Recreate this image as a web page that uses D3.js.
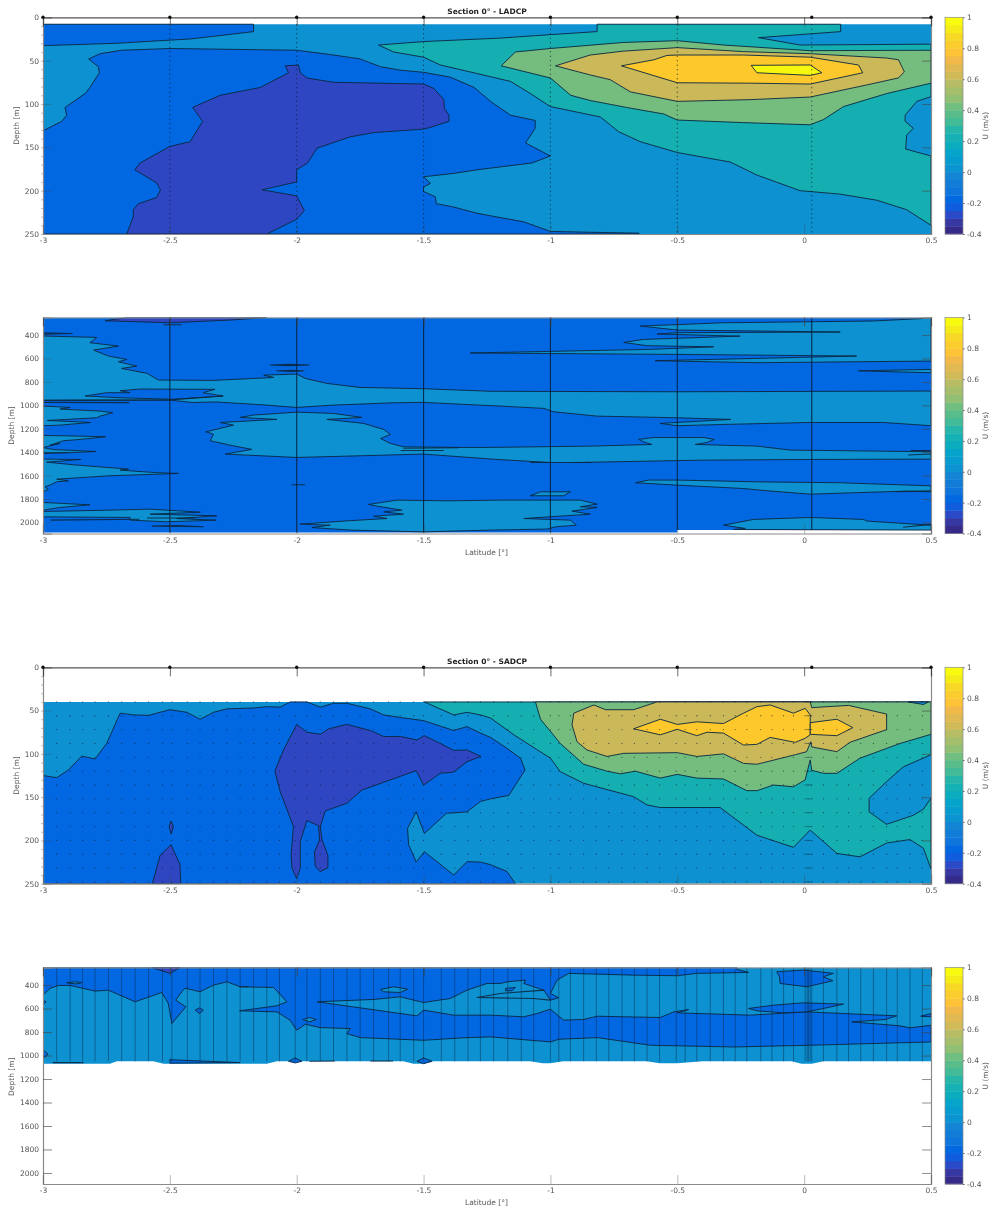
<!DOCTYPE html>
<html><head><meta charset="utf-8">
<script src="https://cdn.jsdelivr.net/npm/d3@7"></script>
<style>
html,body{margin:0;padding:0;background:#fff}
svg{display:block;filter:blur(0.5px)}
text{font-family:"DejaVu Sans",sans-serif;font-size:7.5px;fill:#555}
</style></head><body>
<script>
// ---------- colour scale ----------
const colorbarLevels=[-0.4,-0.35,-0.3,-0.25,-0.2,-0.15,-0.1,-0.05,0,0.05,0.1,0.15,0.2,0.25,0.3,0.35,0.4,0.45,0.5,0.55,0.6,0.65,0.7,0.75,0.8,0.85,0.9,0.95];
const colorbarColors=["#352a87","#3637a0","#2b4ac7","#0f5cdd","#0268e1","#0d75dc","#127dd8","#1485d4","#0c93d2","#079ccf","#06a4ca","#0aacbd","#15b1b4","#25b5a9","#42bb98","#59bd8b","#71bf80","#91bf73","#a5be6b","#b7bd64","#d1bb59","#e1b952","#f1b94a","#ffc337","#fccd2e","#f7d826","#f5eb18","#f9fb0e"];
const fillLevels=[-0.4,-0.2,0,0.2,0.4,0.6,0.8,1];
const fillColors=["#2f46c2","#0268e1","#0d91d1","#15afb1","#74bd7e","#cab859","#fcc82c","#f6f60f"];
const colorbarTicks=[-0.4,-0.2,0,0.2,0.4,0.6,0.8,1];
// ---------- axes ----------
const latTicks=[-3,-2.5,-2,-1.5,-1,-0.5,0,0.5];
const shallowDepthTicks=[0,50,100,150,200,250];
const deepDepthTicks=[400,600,800,1000,1200,1400,1600,1800,2000];
const stationLats=[-3,-2.5,-2,-1.5,-1,-0.5,0.03,0.5];
const sadcpLats=[-2.946,-2.893,-2.844,-2.795,-2.742,-2.69,-2.637,-2.584,-2.529,-2.492,-2.431,-2.381,-2.328,-2.275,-2.223,-2.17,-2.118,-2.068,-2.006,-1.96,-1.907,-1.855,-1.802,-1.75,-1.697,-1.638,-1.592,-1.539,-1.5,-1.43,-1.377,-1.325,-1.276,-1.224,-1.168,-1.115,-1.066,-1,-0.967,-0.921,-0.869,-0.819,-0.77,-0.718,-0.669,-0.619,-0.57,-0.504,-0.469,-0.423,-0.37,-0.318,-0.272,-0.226,-0.171,-0.127,-0.081,-0.042,0.004,0.012,0.017,0.024,0.03,0.076,0.129,0.175,0.223,0.273,0.325,0.367,0.417,0.466];
const sadcpDepths=[40,56,72,88,104,120,136,152,168,184,200,216,232,248];

// ---------- panel 1: LADCP 0-250 m  [latitude, depth] ----------
const l1Base=[[-3,8],[0.5,8],[0.5,250],[-3,250]];
const l1BlueTop=[[-3,8],[-2.17,8],[-2.17,16.5],[-2.315,21.5],[-2.42,25],[-2.54,27],[-2.71,30],[-3,32.7]];
const l1Blue=[[-3,131],[-2.926,120],[-2.907,113],[-2.913,104],[-2.834,88],[-2.815,81],[-2.778,64],[-2.782,57],[-2.82,48],[-2.775,42],[-2.69,38],[-2.5,36],[-2.25,37],[-2,38],[-1.855,43.5],[-1.75,48],[-1.67,57],[-1.59,61],[-1.5,63.5],[-1.395,69],[-1.3,81],[-1.236,97],[-1.197,105],[-1.157,113],[-1.06,119],[-1.06,128],[-1.098,145],[-1,160],[-1.072,168],[-1.236,174],[-1.29,176],[-1.38,180],[-1.5,184],[-1.473,191.5],[-1.5,196],[-1.5,201],[-1.454,207],[-1.45,215],[-1.38,219],[-1.29,226],[-1.236,229],[-1.105,236],[-1,247],[-0.84,248],[-0.652,249],[-0.65,250],[-3,250]];
const l1Violet=[[-2.67,250],[-2.644,230],[-2.644,222],[-2.624,215],[-2.552,208],[-2.537,199],[-2.552,191],[-2.638,176],[-2.617,168],[-2.5,149],[-2.42,143.5],[-2.371,120],[-2.41,104],[-2.302,90],[-2.144,81],[-2.032,64],[-2.045,56],[-1.993,55],[-1.986,64],[-1.96,70],[-1.855,75],[-1.5,77],[-1.46,82],[-1.42,95],[-1.418,105],[-1.4,113],[-1.4,120],[-1.473,127],[-1.5,129],[-1.697,133],[-1.79,138],[-1.92,151],[-1.957,168],[-2,176],[-2,190],[-2.137,199],[-2,206],[-1.97,223],[-2,233],[-2.118,250]];
const l1Teal=[[-1.677,32],[-1.5,28],[-1.197,24],[-1,20],[-0.816,16.5],[-0.816,8],[0.144,8],[0.144,16.5],[-0.18,23.5],[-0.016,32],[0.5,31],[0.5,91.5],[0.444,97],[0.398,113],[0.398,120],[0.43,128],[0.404,136],[0.4,152],[0.5,160],[0.5,240],[0.404,222],[0.286,211],[0.142,204],[-0.016,200],[-0.186,182],[-0.291,167],[-0.5,156],[-0.646,143.5],[-0.731,132],[-0.803,115],[-1,103],[-1.079,88],[-1.157,74],[-1.236,68.5],[-1.434,55],[-1.5,46],[-1.618,40]];
const l1Green=[[-1.194,56],[-1.138,40],[-1,36],[-0.711,29],[-0.5,27],[-0.318,32],[0.024,38.5],[0.5,38],[0.5,76],[0.325,88],[0.155,103],[0.076,118],[0.024,124],[-0.239,121.5],[-0.5,118.5],[-0.554,111.5],[-0.7,104],[-0.843,96],[-0.92,90],[-1,70]];
const l1Khaki=[[-0.98,56],[-0.843,43.5],[-0.711,39],[-0.5,35],[-0.239,39.6],[0.024,42],[0.325,47],[0.372,49],[0.395,63],[0.371,70],[0.247,78],[0.024,92],[-0.213,95],[-0.5,97],[-0.685,86],[-0.764,72],[-0.843,66.5]];
const l1Gold=[[-0.72,56],[-0.592,49],[-0.541,44],[-0.5,43.5],[-0.239,43.5],[0.024,46],[0.214,55],[0.231,64],[0.024,77],[-0.213,76],[-0.5,75.5]];
const l1Yellow=[[-0.209,55.4],[0.024,55],[0.07,64],[0.024,67],[-0.186,64]];
const ladcpUpperLayers=[[0,l1Base,0],[-0.2,l1BlueTop],[-0.2,l1Blue],[-0.4,l1Violet],[0.2,l1Teal],[0.4,l1Green],[0.6,l1Khaki],[0.8,l1Gold],[1,l1Yellow]];

// ---------- panel 2: LADCP deep ----------
const l2Base=[[-3,250],[0.5,250],[0.5,2065],[-0.5,2065],[-0.5,2086],[-3,2086]];
const l2Band=[[-3,408],[-2.788,420],[-2.815,465],[-2.703,494],[-2.8,528],[-2.775,551],[-2.742,579],[-2.67,608],[-2.703,628],[-2.63,665],[-2.69,685],[-2.59,727],[-2.545,784],[-2.33,787],[-2.09,762],[-2.13,742],[-2,733],[-1.966,770],[-1.88,813],[-1.75,847],[-1.5,858],[-1.236,880],[-0.5,884],[0.5,878],[0.5,1174],[0.312,1146],[0.024,1146],[-0.318,1163],[-0.5,1174],[-0.567,1154],[-0.289,1120],[-0.5,1106],[-0.816,1092],[-0.987,1055],[-1.026,1026],[-1.2,1006],[-1.5,975],[-1.618,978],[-1.855,998],[-2,1018],[-2.118,998],[-2.318,971],[-2.41,976],[-2.5,955],[-3,957]];
const l2BandHole=[[-2.834,920],[-2.75,892],[-2.657,892],[-2.696,875],[-2.618,861],[-2.322,863],[-2.369,892],[-2.29,920],[-2.487,948],[-2.7,935]];
const l2LeftA=[[-3,1006],[-2.893,1018],[-2.933,1032],[-2.775,1049],[-2.725,1063],[-2.775,1092],[-2.788,1106],[-2.983,1129],[-2.812,1146],[-2.933,1169],[-3,1174]];
const l2LeftB=[[-3,1257],[-2.92,1260],[-2.753,1268],[-2.854,1291],[-2.92,1302],[-2.972,1340],[-2.933,1325],[-3,1360],[-2.96,1377],[-2.792,1394],[-2.907,1405],[-3,1410]];
const l2LeftC=[[-3,1459],[-2.851,1462],[-2.986,1485],[-2.867,1510],[-2.663,1544],[-2.696,1553],[-2.55,1575],[-2.466,1581],[-2.538,1587],[-2.736,1601],[-2.946,1630],[-2.9,1644],[-2.946,1653],[-2.972,1681],[-2.992,1695],[-2.979,1718],[-3,1738]];
const l2LeftD=[[-3,1829],[-2.815,1849],[-2.933,1872],[-3,1895]];
const l2LeftE=[[-3,1906],[-2.749,1895],[-2.578,1886],[-2.38,1912],[-2.578,1929],[-2.315,1943],[-2.473,1966],[-2.414,1972],[-2.318,1980],[-2.512,1994],[-2.657,1980],[-2.657,1957],[-3,1952]];
const l2Center=[[-2.078,1120],[-2.223,1103],[-2.17,1083],[-2,1058],[-1.855,1069],[-1.743,1103],[-1.881,1120],[-1.736,1154],[-1.657,1206],[-1.631,1248],[-1.67,1283],[-1.631,1325],[-1.579,1354],[-1.362,1359],[-1.236,1359],[-0.843,1348],[-0.6,1334],[-0.633,1311],[-0.652,1291],[-0.593,1274],[-0.396,1274],[-0.354,1291],[-0.383,1317],[-0.429,1334],[-0.186,1348],[-0.055,1382],[0.5,1396],[0.5,1459],[0.024,1462],[-0.41,1468],[-0.908,1488],[-1,1488],[-1.21,1462],[-1.5,1416],[-2,1445],[-2.282,1416],[-2.177,1376],[-2.262,1340],[-2.341,1302],[-2.328,1246],[-2.358,1226],[-2.249,1169],[-2.302,1146]];
const l2TopRight=[[0.5,255],[0.273,280],[-0.318,295],[-0.646,323],[-0.5,357],[0.142,374],[-0.5,380],[-0.58,391],[-0.252,409],[-0.633,437],[-0.711,463],[-0.619,491],[-0.357,500],[-0.606,522],[-1.316,553],[-0.5,565],[0.207,579],[-0.186,599],[-0.587,619],[-0.186,636],[0.5,622]];
const l2RightLens=[[0.214,705],[0.5,693],[0.5,722]];
const l2RightLobe=[[-0.665,1661],[-0.613,1638],[-0.5,1638],[-0.186,1653],[0.142,1661],[0.5,1687],[0.5,1738],[0.404,1732],[0.024,1758],[-0.147,1729],[-0.239,1710],[-0.5,1681]];
const l2BottomRight=[[-0.318,2023],[-0.2,1974],[0.024,1957],[0.234,1974],[0.247,1988],[0.5,2023],[0.5,2065],[-0.278,2060],[-0.232,2051]];
const l2SmallLobe=[[-1.08,1772],[-1.039,1738],[-0.921,1738],[-0.948,1772]];
const l2LowerLobe=[[-1.717,1846],[-1.605,1809],[-1.4,1815],[-1.197,1809],[-0.882,1809],[-0.816,1843],[-0.882,1866],[-0.816,1872],[-0.915,1903],[-0.843,1929],[-1.105,1966],[-0.921,1980],[-0.898,2023],[-0.98,2037],[-1.013,2056],[-1.236,2065],[-1.5,2080],[-1.789,2065],[-1.94,2043],[-1.868,2023],[-1.986,2014],[-1.802,1986],[-1.644,1966],[-1.697,1946],[-1.579,1929],[-1.657,1909],[-1.585,1895],[-1.684,1860]];
const l2VioletTop=[[-2.755,278],[-2.67,250],[-2.118,250],[-2.262,272],[-2.5,295]];
const ladcpDeepLayers=[[-0.2,l2Base,0],[0,l2Band],[-0.2,l2BandHole],[0,l2LeftA],[0,l2LeftB],[0,l2LeftC],[0,l2LeftD],[0,l2LeftE],[0,l2Center],[0,l2TopRight],[0,l2RightLens],[0,l2RightLobe],[0,l2BottomRight],[0,l2SmallLobe],[0,l2LowerLobe],[-0.4,l2VioletTop]];
const l2Streaks=[[[-3,380],[-2.883,386],[-3,392]],[[-2.525,312],[-2.453,312]],[[-2.105,656],[-2.03,650],[-1.95,656],[-2.03,662],[-2.105,656]],[[-2.08,705],[-2.02,700],[-1.97,705],[-2.02,710],[-2.08,705]],[[-2.02,1678],[-1.967,1678]],[[-2.003,1465],[-1.997,1465]],[[-1.58,1366],[-1.36,1362]],[[-1.59,1385],[-1.42,1385]],[[-2.571,2031],[-2.47,2026],[-2.367,2037],[-2.571,2031]],[[-3,957],[-2.5,953],[-2.29,920]],[[-3,975],[-2.66,977]],[[-3,1405],[-2.9,1405]],[[-2.97,1980],[-2.62,1972]],[[-2.59,1962],[-2.4,1962]],[[0.42,1386],[0.5,1386]],[[0.41,1424],[0.5,1415]],[[0.36,1738],[0.5,1730]],[[0.39,2040],[0.5,2016]],[[-1.08,1488],[-1.0,1488]],[[-0.91,1488],[-0.84,1488]]];

// ---------- panel 3: SADCP 0-250 m ----------
const s1Base=[[-3,40],[0.5,40],[0.5,250],[-3,250]];
const s1Blue=[[-3,125],[-2.946,127.5],[-2.9,118.6],[-2.847,102.5],[-2.795,106],[-2.749,88],[-2.696,53],[-2.644,55],[-2.584,55.5],[-2.5,49],[-2.433,52],[-2.381,60],[-2.328,52],[-2.275,48],[-2.17,47],[-2.118,45.5],[-2.065,46],[-2.026,40],[-1.96,40],[-1.907,46],[-1.855,41.6],[-1.802,41.6],[-1.71,48],[-1.657,55],[-1.59,58],[-1.5,61.6],[-1.381,73],[-1.329,68.5],[-1.276,76],[-1.236,81],[-1.171,93.6],[-1.118,105],[-1.1,118.6],[-1.164,148],[-1.236,152],[-1.276,155],[-1.329,167],[-1.41,168.7],[-1.497,192],[-1.529,167],[-1.563,186],[-1.559,205],[-1.529,225],[-1.497,213],[-1.381,240],[-1.329,224.6],[-1.276,225],[-1.236,228],[-1.171,236],[-1.138,250],[-3,250]];
const s1VioletMain=[[-2,66],[-1.96,75],[-1.907,77.4],[-1.874,71],[-1.802,66],[-1.71,73],[-1.657,80],[-1.59,80],[-1.526,84],[-1.497,79],[-1.434,88],[-1.381,96],[-1.329,95.5],[-1.274,103],[-1.329,109],[-1.381,121],[-1.434,122.5],[-1.5,136],[-1.529,119.4],[-1.743,141.8],[-1.802,157],[-1.888,166],[-1.907,184],[-1.9,199.5],[-1.877,217],[-1.877,231.5],[-1.907,236],[-1.927,230],[-1.93,213],[-1.91,199.5],[-1.914,183],[-1.96,177],[-1.986,201.5],[-1.986,232],[-2,244],[-2.019,232],[-2.022,217],[-2.013,184],[-2.065,143.7],[-2.086,120],[-2.052,95.5]];
const s1VioletSmall=[[-2.495,177.6],[-2.486,184],[-2.495,192.6],[-2.503,184]];
const s1VioletBottom=[[-2.569,250],[-2.538,217],[-2.495,205],[-2.46,228],[-2.457,250]];
const s1Teal=[[-1.497,40],[0.5,40],[0.5,101],[0.391,115],[0.325,132],[0.256,151.4],[0.256,167],[0.325,181.4],[0.43,171],[0.47,164],[0.5,151],[0.5,233],[0.47,209],[0.417,199],[0.325,203],[0.22,219],[0.129,215],[0.024,188],[0.004,194],[-0.042,208],[-0.186,194],[-0.331,162],[-0.567,162],[-0.619,159],[-0.672,149.5],[-0.869,134],[-0.961,120.6],[-1,105],[-1.144,78],[-1.236,58.6],[-1.276,55],[-1.329,52],[-1.381,55]];
const s1Green=[[-1.059,40],[0.5,40],[0.5,77.4],[0.378,88],[0.22,105],[0.129,122.5],[0.076,122.5],[0.03,119],[0.024,107],[0.004,130],[-0.042,138],[-0.121,136],[-0.186,142.5],[-0.226,142.5],[-0.318,129],[-0.423,128],[-0.5,123.7],[-0.567,128],[-0.665,120],[-0.724,123],[-0.777,120],[-0.869,112],[-0.961,88],[-1.039,60]];
const s1Khaki=[[-0.915,66.6],[-0.908,53],[-0.829,43.5],[-0.783,49],[-0.672,49],[-0.58,40],[0.024,40],[0.03,46.6],[0.175,44],[0.325,54],[0.325,72],[0.181,86.6],[0.129,97.5],[0.03,92],[0.026,86],[0.01,97.5],[-0.035,101],[-0.186,112],[-0.239,111],[-0.318,100],[-0.423,103],[-0.5,98.6],[-0.711,99.4],[-0.777,103],[-0.856,95.5],[-0.895,86]];
const s1Gold=[[-0.672,71],[-0.567,60],[-0.5,66],[-0.423,63],[-0.318,65],[-0.239,53],[-0.186,45.5],[-0.134,43.5],[-0.042,53],[0.004,47.4],[0.024,55],[0.024,78],[0.004,82],[-0.035,86.7],[-0.134,81],[-0.186,89],[-0.239,89.8],[-0.318,76],[-0.383,75],[-0.423,79],[-0.5,71.6],[-0.567,78]];
const s1GoldEast=[[0.024,64],[0.129,60],[0.192,69.7],[0.129,79],[0.024,77.4]];
const s1TopLens=[[0.41,40],[0.47,43],[0.49,40]];
const sadcpUpperLayers=[[0,s1Base,0],[-0.2,s1Blue],[-0.4,s1VioletMain],[-0.4,s1VioletSmall],[-0.4,s1VioletBottom],[0.2,s1Teal],[0.4,s1Green],[0.6,s1Khaki],[0.8,s1Gold],[0.8,s1GoldEast],[0,s1TopLens]];

// ---------- panel 4: SADCP deep ----------
const s2Base=[[-3,250],[0.5,250],[0.5,1049],[0.076,1049],[0.03,1069],[-0.01,1069],[-0.05,1049],[-0.4,1049],[-0.5,1066],[-0.57,1066],[-0.62,1049],[-0.95,1049],[-1,1066],[-1.03,1066],[-1.08,1049],[-1.46,1049],[-1.5,1069],[-1.54,1069],[-1.58,1049],[-2.078,1049],[-2.118,1069],[-2.525,1069],[-2.565,1049],[-2.709,1049],[-2.736,1069],[-3,1069]];
const s2BlueTop=[[-3,250],[-3,485],[-2.972,428],[-2.94,403],[-2.893,403],[-2.795,451],[-2.742,443],[-2.637,542],[-2.532,463],[-2.506,557],[-2.492,727],[-2.437,585],[-2.477,528],[-2.453,457],[-2.44,426],[-2.381,457],[-2.328,400],[-2.275,372],[-2.223,414],[-2.091,420],[-2.039,542],[-2.078,576],[-2.225,619],[-2.078,628],[-2.026,699],[-2,784],[-1.966,733],[-1.907,762],[-1.789,770],[-1.802,813],[-1.75,847],[-1.5,870],[-1.329,847],[-1.236,841],[-1,884],[-0.967,861],[-0.816,847],[-0.606,912],[-0.278,927],[0.024,912],[0.5,884],[0.5,742],[0.417,764],[0.378,747],[0.188,713],[0.319,693],[0.365,662],[0.01,628],[-0.213,656],[-0.5,636],[-0.455,608],[-0.514,628],[-0.567,676],[-0.816,665],[-0.869,693],[-0.948,698],[-1,605],[-1.052,642],[-1.105,670],[-1.236,656],[-1.381,656],[-1.5,613],[-1.526,662],[-1.92,542],[-1.697,522],[-1.592,500],[-1.5,548],[-1.395,514],[-1.329,443],[-1.25,386],[-1.197,386],[-1.171,372],[-1.098,357],[-1.105,386],[-1.026,443],[-1,528],[-0.967,508],[-1,471],[-0.974,357],[-0.928,300],[-0.672,315],[-0.5,320],[-0.423,300],[-0.219,292],[-0.265,266],[-0.265,250]];
const s2VioletTop=[[-2.571,250],[-2.5,300],[-2.46,250]];
const s2BlobNorth=[[-0.108,286],[-0.003,272],[0.115,300],[0.076,329],[0.113,363],[0.01,414],[-0.095,386],[-0.097,329]];
const s2BlobMid=[[-0.219,599],[-0.121,571],[-0.003,551],[0.155,562],[0.076,599],[0.01,628],[-0.081,636],[-0.186,619]];
const s2BlobEdge=[[0.46,665],[0.5,642],[0.5,670]];
const s2Lens=[[-1.177,428],[-1.138,420],[-1.151,448],[-1.177,448]];
const s2RingCyanA=[[-1.67,437],[-1.618,414],[-1.563,434],[-1.592,463],[-1.657,457]];
const s2RingCyanB=[[-1.976,693],[-1.95,676],[-1.923,693],[-1.95,713]];
const s2RingCyanC=[[-2.907,380],[-2.87,372],[-2.848,380],[-2.87,390]];
const s2RingBlue=[[-2.4,613],[-2.383,594],[-2.368,613],[-2.383,642]];
const s2LeftBlobA=[[-3,950],[-2.98,989],[-3,1026]];
const s2LeftBlobB=[[-3,528],[-2.988,542],[-3,571]];
const s2BottomA=[[-2.5,1035],[-2.381,1046],[-2.223,1060],[-2.5,1065]];
const s2BottomB=[[-2.032,1049],[-2.006,1020],[-1.98,1049],[-2.006,1063]];
const s2BottomC=[[-1.526,1049],[-1.5,1020],[-1.467,1049],[-1.5,1069]];
const sadcpDeepLayers=[[0,s2Base,0],[-0.2,s2BlueTop],[-0.4,s2VioletTop],[-0.2,s2BlobNorth],[-0.2,s2BlobMid],[-0.2,s2BlobEdge],[-0.2,s2Lens],[0,s2RingCyanA],[0,s2RingCyanB],[0,s2RingCyanC],[-0.2,s2RingBlue],[-0.2,s2LeftBlobA],[-0.2,s2LeftBlobB],[-0.2,s2BottomA],[-0.2,s2BottomB],[-0.2,s2BottomC]];
const s2Streaks=[[[-2.962,1060],[-2.84,1060]],[[-1.95,1048],[-1.85,1046]],[[-1.71,1046],[-1.62,1046]],[[-2.225,414],[-2.19,414]],[[-1.29,505],[-1.197,471],[-1.026,443]],[[-1.29,505],[-1.066,514],[-1,528]]];

// ---------- drawing ----------
const W=990,H=1207;
const svg=d3.select("body").append("svg").attr("width",W).attr("height",H);
const fillOf=d3.scaleOrdinal(fillLevels,fillColors);
const x=d3.scaleLinear([-3,0.5],[43,931]);
const fmt=d=>String(d);
const LINE="#0c2740";

function panel(o){
  const y=d3.scaleLinear(o.depth,o.range);
  const g=svg.append("g");
  const id="clip"+o.id;
  g.append("clipPath").attr("id",id).append("rect").attr("x",43).attr("y",o.range[0]).attr("width",888).attr("height",o.range[1]-o.range[0]);
  const line=d3.line().x(d=>x(d[0])).y(d=>y(d[1]));
  const data=g.append("g").attr("clip-path",`url(#${id})`);
  data.selectAll("path.layer").data(o.layers).join("path").attr("class","layer")
    .attr("d",d=>line(d[1])+"Z").attr("fill",d=>fillOf(d[0]))
    .attr("stroke",d=>d[2]===0?"none":LINE).attr("stroke-width",1).attr("stroke-opacity",0.9).attr("stroke-linejoin","round");
  if(o.streaks) data.selectAll("path.streak").data(o.streaks).join("path").attr("class","streak")
    .attr("d",line).attr("fill","none").attr("stroke",LINE).attr("stroke-width",1.1).attr("stroke-opacity",0.9);
  if(o.overlay) o.overlay(data,y);

  // axes
  const left=g.append("g").attr("transform","translate(43,0)").call(d3.axisLeft(y).tickValues(o.ticks).tickSize(-9).tickPadding(4).tickFormat(fmt));
  const right=g.append("g").attr("transform","translate(931,0)").call(d3.axisRight(y).tickValues(o.ticks).tickSize(-9).tickFormat(""));
  const bottom=g.append("g").attr("transform",`translate(0,${o.range[1]})`).call(d3.axisBottom(x).tickValues(latTicks).tickSize(-9).tickPadding(4).tickFormat(fmt));
  const top=g.append("g").attr("transform",`translate(0,${o.range[0]})`).call(d3.axisTop(x).tickValues(latTicks).tickSize(-9).tickFormat(""));
  [left,right,bottom,top].forEach(a=>{a.select(".domain").attr("stroke","#8a8a8a").attr("stroke-width",1.2);
    a.selectAll("line").attr("stroke","#444").attr("stroke-width",0.8);});
  left.selectAll(".tick line").attr("stroke-opacity",o.tickLeftOpacity);
  right.selectAll(".tick line").attr("stroke-opacity",0.75);
  bottom.selectAll(".tick line").attr("stroke-opacity",0.45);
  if(o.minor){ const m=g.append("g").attr("transform","translate(43,0)").call(d3.axisLeft(y).tickValues(o.minor).tickSize(2).tickFormat(""));
    m.select(".domain").remove(); m.selectAll("line").attr("stroke","#999").attr("stroke-width",0.6); }
  left.selectAll("text").attr("dy","0.32em");
  if(o.ship){
    top.select(".domain").attr("stroke","#555");
    g.selectAll("circle.ship").data(stationLats).join("circle").attr("class","ship")
      .attr("cx",d=>x(d)).attr("cy",y(0)).attr("r",1.7).attr("fill","#111");
  }
  if(o.title) g.append("text").attr("x",487).attr("y",o.range[0]-3.5).attr("text-anchor","middle").style("font-weight","bold").style("fill","#222").text(o.title);
  if(o.xlabel) g.append("text").attr("x",486.5).attr("y",o.range[1]+21).attr("text-anchor","middle").text(o.xlabel);
  g.append("text").attr("transform",`translate(${o.labelX},${(o.range[0]+o.range[1])/2+(o.labelShift||0)}) rotate(-90)`).attr("text-anchor","middle").attr("dy","0.32em").text("Depth [m]");

  // colour bar
  const cy=d3.scaleLinear([-0.4,1],[o.range[1],o.range[0]]);
  const cb=svg.append("g");
  cb.selectAll("rect").data(colorbarLevels).join("rect")
    .attr("x",945).attr("width",18)
    .attr("y",d=>cy(d+0.05)).attr("height",d=>cy(d)-cy(d+0.05)+0.4)
    .attr("fill",(d,i)=>colorbarColors[i]);
  const ca=cb.append("g").attr("transform","translate(963,0)").call(d3.axisRight(cy).tickValues(colorbarTicks).tickSize(1.5).tickPadding(2.5).tickFormat(fmt));
  ca.select(".domain").remove(); ca.selectAll("line").attr("stroke","#555");
  cb.append("rect").attr("x",945).attr("y",o.range[0]).attr("width",18).attr("height",o.range[1]-o.range[0]).attr("fill","none").attr("stroke","#8a8a8a").attr("stroke-width",0.7);
  cb.append("text").attr("transform",`translate(986,${(o.range[0]+o.range[1])/2}) rotate(-90)`).attr("text-anchor","middle").attr("dy","0.32em").text("U (m/s)");
}

panel({id:1,depth:[0,250],range:[17.3,234],layers:ladcpUpperLayers,ticks:shallowDepthTicks,minor:d3.range(0,251,10),tickLeftOpacity:0.35,ship:true,title:"Section 0° - LADCP",labelX:17,
  overlay:(g,y)=>{g.selectAll("line.st").data(stationLats.slice(1,7)).join("line").attr("class","st")
    .attr("x1",d=>x(d)).attr("x2",d=>x(d)).attr("y1",y(8)).attr("y2",y(250))
    .attr("stroke","#0a1a30").attr("stroke-width",1).attr("stroke-dasharray","1 3.5").attr("stroke-opacity",0.9);}});

panel({id:2,depth:[250,2094],range:[317.5,533.5],layers:ladcpDeepLayers,streaks:l2Streaks,ticks:deepDepthTicks,tickLeftOpacity:0.3,xlabel:"Latitude [°]",labelX:12,
  overlay:(g,y)=>{g.selectAll("line.st").data(stationLats.slice(1,7)).join("line").attr("class","st")
    .attr("x1",d=>x(d)).attr("x2",d=>x(d)).attr("y1",y(250)).attr("y2",d=>y(d>-0.6?2065:2086))
    .attr("stroke","#06213f").attr("stroke-width",1.1).attr("stroke-opacity",0.9);}});

panel({id:3,depth:[0,250],range:[667.3,883.7],layers:sadcpUpperLayers,ticks:shallowDepthTicks,minor:d3.range(0,251,10),tickLeftOpacity:0.3,ship:true,title:"Section 0° - SADCP",labelX:17,
  overlay:(g,y)=>{const pts=sadcpDepths.flatMap(d=>sadcpLats.map(l=>[l,d]));
    g.selectAll("circle.obs").data(pts).join("circle").attr("class","obs")
    .attr("cx",d=>x(d[0])).attr("cy",d=>y(d[1])).attr("r",0.65).attr("fill","#0a1a30").attr("fill-opacity",0.6);}});

panel({id:4,depth:[250,2094],range:[967.5,1184],layers:sadcpDeepLayers,streaks:s2Streaks,ticks:deepDepthTicks,tickLeftOpacity:0.8,xlabel:"Latitude [°]",labelX:12,labelShift:1,
  overlay:(g,y)=>{g.selectAll("line.st").data(sadcpLats).join("line").attr("class","st")
    .attr("x1",d=>x(d)).attr("x2",d=>x(d)).attr("y1",y(250)).attr("y2",y(1050))
    .attr("stroke","#0a2440").attr("stroke-width",0.8).attr("stroke-opacity",0.55);}});
</script>
</body></html>
